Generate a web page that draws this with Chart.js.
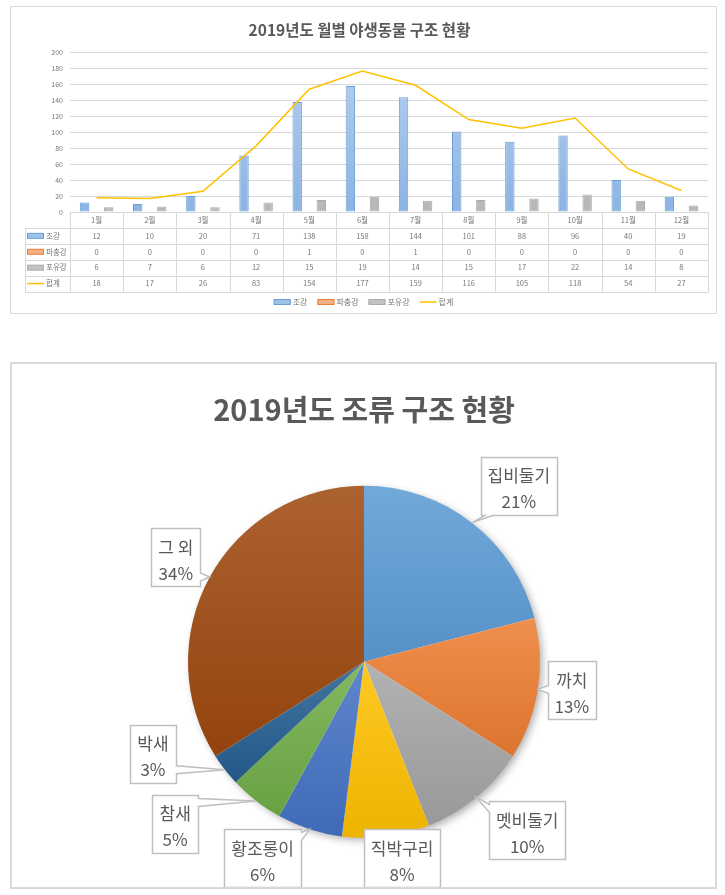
<!DOCTYPE html>
<html>
<head>
<meta charset="utf-8">
<script src="https://cdn.jsdelivr.net/npm/chart.js@4.4.1/dist/chart.umd.min.js"></script>
<style>
  body { margin: 0; background: #fff; width: 725px; height: 895px; position: relative; overflow: hidden; }
  .box { position: absolute; background: #fff; box-sizing: border-box; }
  #box1 { left: 10px; top: 6px; width: 707px; height: 308px; border: 1px solid #D9D9D9; }
  #box2 { left: 10px; top: 362px; width: 707px; height: 527px; border: 2px solid #D9D9D9; }
  canvas { display: block; }
</style>
</head>
<body>
<div class="box" id="box1"><canvas id="monthly" width="705" height="306"></canvas></div>
<div class="box" id="box2"><canvas id="birds" width="703" height="523"></canvas></div>
<script>
// 월별 구조 현황
const months = ['1월', '2월', '3월', '4월', '5월', '6월', '7월', '8월', '9월', '10월', '11월', '12월'];
const aves = [12, 10, 20, 71, 138, 158, 144, 101, 88, 96, 40, 19];     // 조강
const reptilia = [0, 0, 0, 0, 1, 0, 1, 0, 0, 0, 0, 0];                 // 파충강
const mammalia = [6, 7, 6, 12, 15, 19, 14, 15, 17, 22, 14, 8];         // 포유강
const totals = [18, 17, 26, 83, 154, 177, 159, 116, 105, 118, 54, 27]; // 합계
const seriesNames = ['조강', '파충강', '포유강', '합계'];
const yMin = 0, yMax = 200, yStep = 20;

// 조류 구조 현황 (%)
const species = ['집비둘기', '까치', '멧비둘기', '직박구리', '황조롱이', '참새', '박새', '그 외'];
const speciesShare = [21, 13, 10, 8, 6, 5, 3, 34];

const FONT = "'Malgun Gothic', 'Noto Sans CJK KR', 'Noto Sans', sans-serif";
Chart.defaults.font.family = FONT;

const seriesStyle = [
  { top: '#B8D1EF', bottom: '#8CB3E2', line: '#6A9FD8', key: '#9DC3E6' },
  { top: '#F6B48A', bottom: '#F29A62', line: '#ED7D31', key: '#F4B183' },
  { top: '#CDCDCD', bottom: '#B7B7B7', line: '#ABABAB', key: '#C3C3C3' },
  { line: '#FFC000' }
];

function barFill(i) {
  return c => {
    const a = c.chart.chartArea;
    const s = seriesStyle[i];
    if (!a) return s.key;
    const g = c.chart.ctx.createLinearGradient(0, a.top, 0, a.bottom);
    g.addColorStop(0, s.top);
    g.addColorStop(1, s.bottom);
    return g;
  };
}

function drawKey(ctx, i, x, y) {
  const s = seriesStyle[i];
  if (i === 3) {
    ctx.strokeStyle = s.line; ctx.lineWidth = 1.5;
    ctx.beginPath(); ctx.moveTo(x, y); ctx.lineTo(x + 17, y); ctx.stroke();
  } else {
    ctx.fillStyle = s.key; ctx.fillRect(x, y - 2.5, 17, 5);
    ctx.strokeStyle = s.line; ctx.lineWidth = 1;
    ctx.strokeRect(x + 0.5, y - 2.5, 16, 5);
  }
}

// 데이터 표 + 범례
const dataTable = {
  id: 'dataTable',
  afterDraw(chart) {
    const { ctx, chartArea: a, scales: { x } } = chart;
    const rows = [aves, reptilia, mammalia, totals];
    const rowH = 15.9, keyLeft = 14;
    const top = a.bottom;
    const bottom = top + rowH * (rows.length + 1);
    const half = (x.getPixelForValue(1) - x.getPixelForValue(0)) / 2;
    ctx.save();
    ctx.strokeStyle = '#D9D9D9'; ctx.lineWidth = 1;
    ctx.beginPath();
    ctx.moveTo(a.left, Math.round(top) + 0.5); ctx.lineTo(a.right, Math.round(top) + 0.5);
    for (let r = 1; r <= rows.length + 1; r++) {
      const y = Math.round(top + r * rowH) + 0.5;
      ctx.moveTo(keyLeft, y); ctx.lineTo(a.right, y);
    }
    ctx.moveTo(keyLeft + 0.5, Math.round(top + rowH)); ctx.lineTo(keyLeft + 0.5, Math.round(bottom) + 0.5);
    for (let i = 0; i <= months.length; i++) {
      const xp = Math.round(x.getPixelForValue(i) - half) + 0.5;
      ctx.moveTo(xp, Math.round(top)); ctx.lineTo(xp, Math.round(bottom) + 0.5);
    }
    ctx.stroke();

    ctx.fillStyle = '#767676';
    ctx.font = `7.5px ${FONT}`;
    ctx.textAlign = 'center'; ctx.textBaseline = 'middle';
    months.forEach((m, i) => ctx.fillText(m, x.getPixelForValue(i), top + rowH / 2));
    rows.forEach((vals, r) => vals.forEach((v, i) => ctx.fillText(String(v), x.getPixelForValue(i), top + (r + 1.5) * rowH)));

    ctx.textAlign = 'left';
    seriesNames.forEach((name, r) => {
      const y = top + (r + 1.5) * rowH;
      drawKey(ctx, r, keyLeft + 2, y);
      ctx.fillStyle = '#767676';
      ctx.fillText(name, keyLeft + 21, y);
    });

    // bottom legend
    ctx.font = `8px ${FONT}`;
    const widths = seriesNames.map(n => 19 + ctx.measureText(n).width);
    const gap = 10;
    const totalW = widths.reduce((s, w) => s + w, 0) + gap * (widths.length - 1);
    let lx = chart.width / 2 - totalW / 2;
    const ly = chart.height - 11;
    seriesNames.forEach((name, i) => {
      drawKey(ctx, i, lx, ly);
      ctx.fillStyle = '#767676';
      ctx.fillText(name, lx + 19, ly);
      lx += widths[i] + gap;
    });
    ctx.restore();
  }
};

new Chart(document.getElementById('monthly'), {
  type: 'bar',
  data: {
    labels: months,
    datasets: [
      { label: seriesNames[0], data: aves, backgroundColor: barFill(0), borderColor: seriesStyle[0].line, borderWidth: 1, borderSkipped: false, order: 1 },
      { label: seriesNames[1], data: reptilia, backgroundColor: barFill(1), borderColor: seriesStyle[1].line, borderWidth: 1, borderSkipped: false, order: 1 },
      { label: seriesNames[2], data: mammalia, backgroundColor: barFill(2), borderColor: seriesStyle[2].line, borderWidth: 1, borderSkipped: false, order: 1 },
      { type: 'line', label: seriesNames[3], data: totals, borderColor: seriesStyle[3].line, borderWidth: 1.5, pointRadius: 0, tension: 0, fill: false, order: 0 }
    ]
  },
  options: {
    responsive: false,
    animation: false,
    events: [],
    datasets: { bar: { categoryPercentage: 0.68, barPercentage: 0.78 } },
    layout: { padding: { left: 0, right: 8, top: 0, bottom: 21 } },
    plugins: {
      legend: { display: false },
      tooltip: { enabled: false },
      title: {
        display: true,
        text: '2019년도 월별 야생동물 구조 현황',
        color: '#595959',
        font: { size: 15.5, weight: 'bold' },
        padding: { top: 14, bottom: 13 }
      }
    },
    scales: {
      x: {
        grid: { display: false },
        border: { display: false },
        ticks: { display: false },
        afterFit: s => { s.height = 80; }
      },
      y: {
        min: yMin, max: yMax,
        ticks: { stepSize: yStep, color: '#767676', font: { size: 7 }, padding: 7 },
        grid: { color: '#D9D9D9', drawTicks: false },
        border: { display: false },
        afterFit: s => { s.width = 59; }
      }
    }
  },
  plugins: [dataTable]
});

// ---------- 파이 차트 ----------
const sliceColors = ['#5B9BD5', '#ED7D31', '#A5A5A5', '#FFC000', '#4472C4', '#70AD47', '#255E91', '#9E480E'];
// 라벨 상자 위치 (호 중앙점 기준 이동량)
const labelOffsets = [[47, -37], [34, 1], [51, 33], [16, 22], [-47, 29], [-81, 23], [-72, -16], [-34, -20]];

function mix(hex, t, to) {
  const n = parseInt(hex.slice(1), 16);
  const c = [(n >> 16) & 255, (n >> 8) & 255, n & 255].map(v => Math.round(v + (to - v) * t));
  return `rgb(${c[0]},${c[1]},${c[2]})`;
}

function sliceFill(c) {
  const base = sliceColors[c.dataIndex];
  const a = c.chart.chartArea;
  if (!a) return base;
  const cx = (a.left + a.right) / 2, cy = (a.top + a.bottom) / 2;
  const r = Math.min(a.width, a.height) / 2;
  const total = speciesShare.reduce((s, v) => s + v, 0);
  let before = 0;
  for (let i = 0; i < c.dataIndex; i++) before += speciesShare[i];
  const a0 = -Math.PI / 2 + before / total * 2 * Math.PI;
  const a1 = a0 + speciesShare[c.dataIndex] / total * 2 * Math.PI;
  const ys = [cy, cy + r * Math.sin(a0), cy + r * Math.sin(a1)];
  if (Math.PI / 2 > a0 && Math.PI / 2 < a1) ys.push(cy + r);
  const y0 = Math.min(...ys), y1 = Math.max(...ys);
  const g = c.chart.ctx.createLinearGradient(0, y0, 0, y1 + 1);
  g.addColorStop(0, mix(base, 0.14, 255));
  g.addColorStop(1, mix(base, 0.07, 0));
  return g;
}

const pieShadow = {
  id: 'pieShadow',
  beforeDatasetsDraw(chart) {
    const arc = chart.getDatasetMeta(0).data[0];
    if (!arc) return;
    const { x, y, outerRadius } = arc.getProps(['x', 'y', 'outerRadius'], true);
    const ctx = chart.ctx;
    ctx.save();
    ctx.shadowColor = 'rgba(0,0,0,0.35)';
    ctx.shadowBlur = 9;
    ctx.shadowOffsetX = 3;
    ctx.shadowOffsetY = 3;
    ctx.fillStyle = '#fff';
    ctx.beginPath(); ctx.arc(x, y, outerRadius - 1, 0, Math.PI * 2); ctx.fill();
    ctx.restore();
  }
};

const callouts = {
  id: 'callouts',
  afterDatasetsDraw(chart) {
    const ctx = chart.ctx;
    const arcs = chart.getDatasetMeta(0).data;
    const total = speciesShare.reduce((s, v) => s + v, 0);
    ctx.save();
    ctx.font = `17px ${FONT}`;
    ctx.textAlign = 'center'; ctx.textBaseline = 'middle';
    arcs.forEach((arc, i) => {
      const { x, y, startAngle, endAngle, outerRadius } = arc.getProps(['x', 'y', 'startAngle', 'endAngle', 'outerRadius'], true);
      const mid = (startAngle + endAngle) / 2;
      const ax = x + Math.cos(mid) * outerRadius, ay = y + Math.sin(mid) * outerRadius;
      const name = species[i];
      const pct = Math.round(speciesShare[i] / total * 100) + '%';
      const w = Math.max(ctx.measureText(name).width, ctx.measureText(pct).width) + 14;
      const h = 58;
      const cx = ax + labelOffsets[i][0], cy = ay + labelOffsets[i][1];
      const l = Math.round(cx - w / 2) + 0.5, r = Math.round(cx + w / 2) + 0.5;
      const t = Math.round(cy - h / 2) + 0.5, b = Math.round(cy + h / 2) + 0.5;
      const inside = ax > l && ax < r && ay > t && ay < b;
      let side = null;
      if (!inside) {
        const dx = (ax - cx) / (w / 2), dy = (ay - cy) / (h / 2);
        side = Math.abs(dx) > Math.abs(dy) ? (dx > 0 ? 'right' : 'left') : (dy > 0 ? 'bottom' : 'top');
      }
      const bx = Math.min(Math.max(ax, l + 7), r - 7);
      const by = Math.min(Math.max(ay, t + 7), b - 7);
      ctx.beginPath();
      ctx.moveTo(l, t);
      if (side === 'top') { ctx.lineTo(bx - 4, t); ctx.lineTo(ax, ay); ctx.lineTo(bx + 4, t); }
      ctx.lineTo(r, t);
      if (side === 'right') { ctx.lineTo(r, by - 4); ctx.lineTo(ax, ay); ctx.lineTo(r, by + 4); }
      ctx.lineTo(r, b);
      if (side === 'bottom') { ctx.lineTo(bx + 4, b); ctx.lineTo(ax, ay); ctx.lineTo(bx - 4, b); }
      ctx.lineTo(l, b);
      if (side === 'left') { ctx.lineTo(l, by + 4); ctx.lineTo(ax, ay); ctx.lineTo(l, by - 4); }
      ctx.closePath();
      ctx.fillStyle = '#fff';
      ctx.fill();
      ctx.strokeStyle = '#BFBFBF';
      ctx.lineWidth = 1.5;
      ctx.stroke();
      ctx.fillStyle = '#595959';
      ctx.fillText(name, cx, cy - 10);
      ctx.fillText(pct, cx, cy + 16);
    });
    ctx.restore();
  }
};

new Chart(document.getElementById('birds'), {
  type: 'pie',
  data: {
    labels: species,
    datasets: [{ data: speciesShare, backgroundColor: sliceFill, borderWidth: 0, hoverOffset: 0 }]
  },
  options: {
    responsive: false,
    animation: false,
    events: [],
    layout: { padding: { left: 176, right: 175, top: 0, bottom: 49 } },
    plugins: {
      legend: { display: false },
      tooltip: { enabled: false },
      title: {
        display: true,
        text: '2019년도 조류 구조 현황',
        color: '#595959',
        font: { size: 29, weight: 'bold' },
        padding: { top: 28.6, bottom: 58.3 }
      }
    }
  },
  plugins: [pieShadow, callouts]
});
</script>
</body>
</html>
